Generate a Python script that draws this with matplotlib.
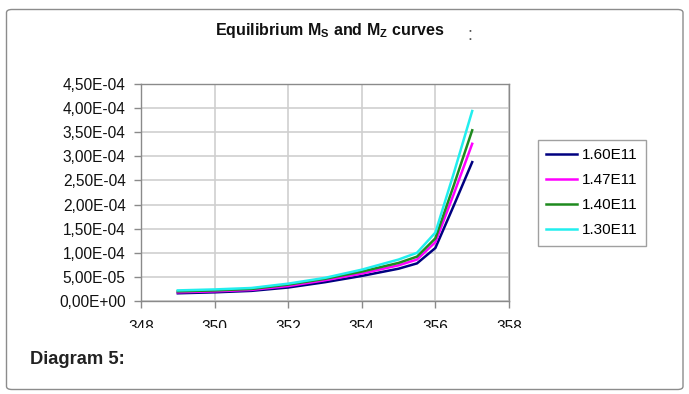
import matplotlib
matplotlib.use("Agg")
import matplotlib.pyplot as plt
from matplotlib.patches import FancyBboxPatch, Rectangle
from matplotlib.ticker import FuncFormatter, MultipleLocator

plt.rcParams['font.family'] = ['Liberation Sans', 'DejaVu Sans']
plt.rcParams['mathtext.fontset'] = 'custom'
plt.rcParams['mathtext.rm'] = 'Liberation Sans'
plt.rcParams['mathtext.bf'] = 'Liberation Sans:bold'

# ---- data ----
temperature = [349, 350, 351, 352, 353, 354, 355, 355.5, 356, 356.5, 357]
series_labels = ["1.60E11", "1.47E11", "1.40E11", "1.30E11"]
s_160 = [1.6e-5, 1.8e-5, 2.1e-5, 2.8e-5, 3.9e-5, 5.2e-5, 6.7e-5, 7.8e-5, 1.10e-4, 1.98e-4, 2.88e-4]
s_147 = [1.8e-5, 2.0e-5, 2.3e-5, 3.1e-5, 4.3e-5, 5.7e-5, 7.4e-5, 8.6e-5, 1.22e-4, 2.22e-4, 3.26e-4]
s_140 = [2.0e-5, 2.2e-5, 2.5e-5, 3.4e-5, 4.6e-5, 6.1e-5, 7.9e-5, 9.2e-5, 1.30e-4, 2.40e-4, 3.54e-4]
s_130 = [2.2e-5, 2.4e-5, 2.7e-5, 3.6e-5, 4.8e-5, 6.5e-5, 8.6e-5, 1.00e-4, 1.42e-4, 2.65e-4, 3.94e-4]
series_values = [s_160, s_147, s_140, s_130]
series_colors = ["#000080", "#ff00ff", "#1e8a1e", "#22eeee"]
x_ticks = [348, 350, 352, 354, 356, 358]

W, H = 689, 394
fig = plt.figure(figsize=(W / 100, H / 100), dpi=100)


def fx(x):
    return x / W


def fy(y):
    return 1 - y / H


# outer rounded frame
frame = FancyBboxPatch((fx(6.5), fy(389.5)), fx(683) - fx(6.5), fy(9.5) - fy(389.5),
                       boxstyle="round,pad=0,rounding_size=0.008",
                       transform=fig.transFigure, facecolor="white",
                       edgecolor="#8c8c8c", linewidth=1.0, zorder=-5)
fig.patches.append(frame)

left, right, top, bottom = 141, 509, 84, 301
ax = fig.add_axes([fx(left), fy(bottom), fx(right) - fx(left), fy(top) - fy(bottom)])

for vals, lab, col in zip(series_values, series_labels, series_colors):
    ax.plot(temperature, vals, color=col, lw=1.8, label=lab, solid_joinstyle="round")

ax.set_xlim(348, 358)
ax.set_ylim(0, 4.5e-4)
ax.set_xticks(x_ticks)
ax.yaxis.set_major_locator(MultipleLocator(5e-5))
ax.yaxis.set_major_formatter(FuncFormatter(lambda v, p: f"{v:.2E}".replace(".", ",")))
ax.grid(True, color="#cfcfcf", lw=1.2)
ax.set_axisbelow(True)
for s in ax.spines.values():
    s.set_color("#8a8a8a")
    s.set_linewidth(1.0)
ax.tick_params(axis="y", direction="out", length=5, width=1, color="#8a8a8a",
               pad=6, labelsize=11.2, labelcolor="#111111")
ax.tick_params(axis="x", direction="out", length=5, width=1, color="#8a8a8a",
               pad=9, labelsize=11.2, labelcolor="#111111")

leg = ax.legend(loc="upper left", bbox_to_anchor=(fx(538), fy(140)),
                bbox_transform=fig.transFigure, borderaxespad=0,
                fancybox=False, edgecolor="#a0a0a0", framealpha=1,
                fontsize=11, handlelength=2.0, handletextpad=0.35,
                labelspacing=0.72, borderpad=0.55)
leg.get_frame().set_linewidth(1.0)

# title
fig.text(fx(330), fy(31), r"Equilibrium $\mathbf{M_S}$ and $\mathbf{M_Z}$ curves",
         ha="center", va="center", fontsize=11.5, fontweight="bold", color="#111111")
fig.text(fx(470), fy(35), ":", ha="center", va="center", fontsize=13, color="#555555")

# the x tick labels are cut off at the bottom of the chart image
fig.patches.append(Rectangle((fx(110), fy(345)), fx(560) - fx(110), fy(328) - fy(345),
                             transform=fig.transFigure, facecolor="white",
                             edgecolor="none", zorder=10))

fig.text(fx(30), fy(360), "Diagram 5:", ha="left", va="center",
         fontsize=13.2, fontweight="bold", color="#222222", zorder=11)

fig.savefig("out.png", dpi=100)
